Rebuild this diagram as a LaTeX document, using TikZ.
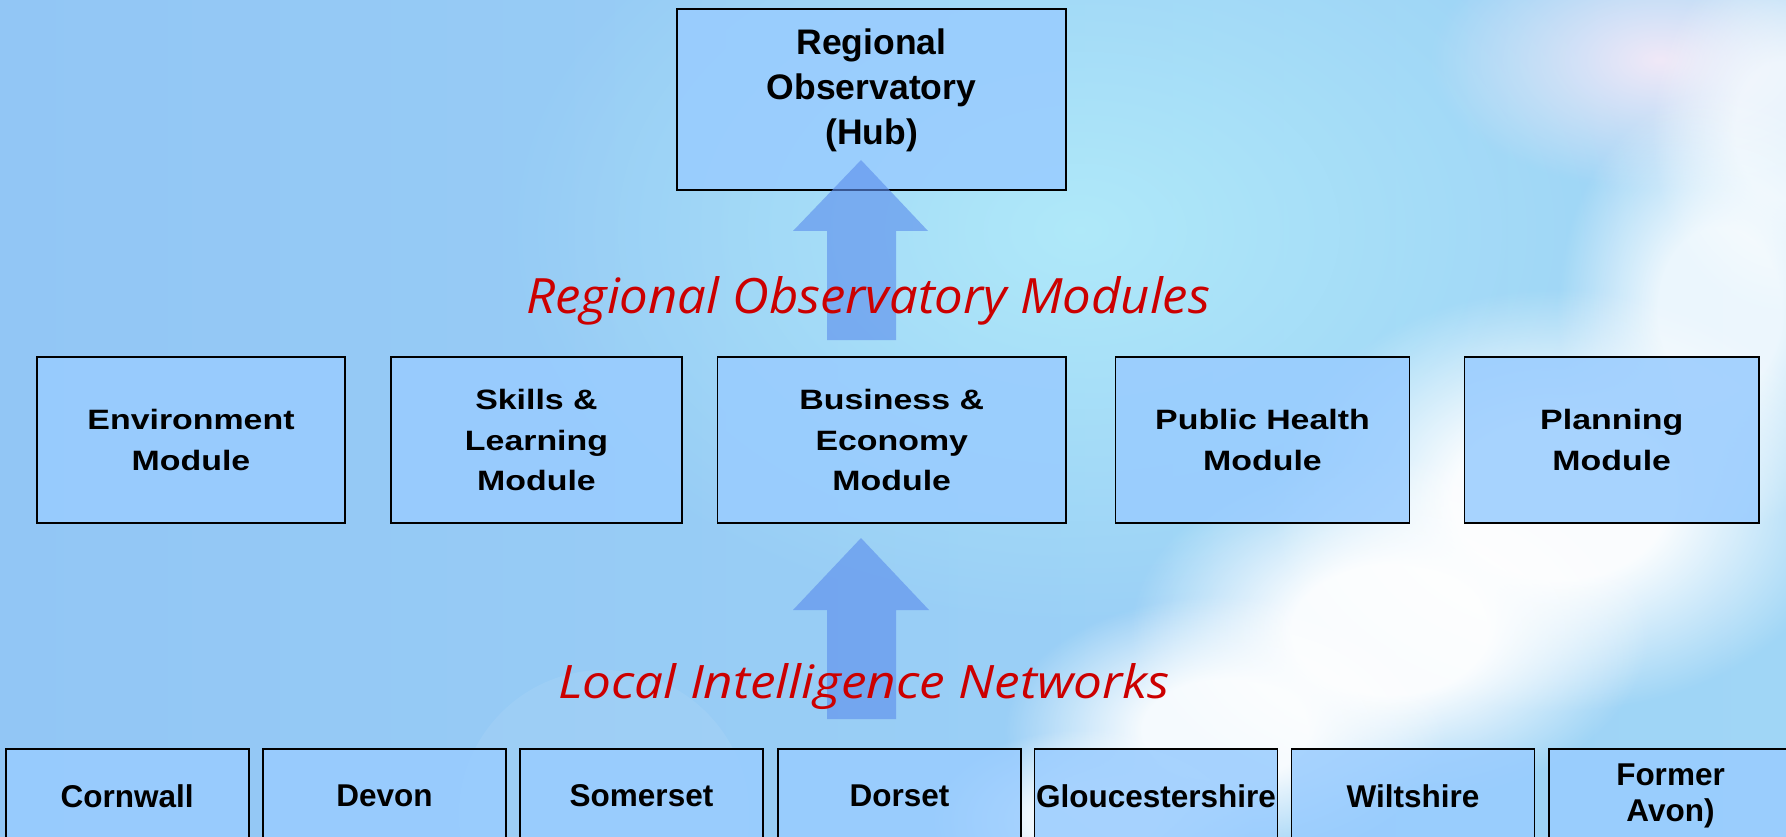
\documentclass[tikz,border=0pt]{standalone}
\usepackage{graphicx}
\usepackage{fontspec}
\setmainfont{Liberation Sans}
\newfontfamily\modfont[FakeStretch=1.21]{Liberation Sans}
\newfontfamily\handfont{Open Sans}
\usetikzlibrary{fadings}
\definecolor{boxblue}{RGB}{153,204,255}
\definecolor{bgleft}{RGB}{146,198,245}
\definecolor{bgright}{RGB}{160,214,246}
\definecolor{skyglow}{RGB}{178,236,250}
\definecolor{arrowblue}{RGB}{92,142,236}
\definecolor{handred}{RGB}{204,0,0}
\definecolor{pinkglow}{RGB}{255,236,248}
\tikzfading[name=softcirc, inner color=transparent!0, outer color=transparent!100]
\pgfdeclareradialshading{cloudshade}{\pgfpointorigin}{color(0bp)=(white); color(9bp)=(white); color(24bp)=(black); color(50bp)=(black)}
\pgfdeclarefading{cloudfade}{\pgfuseshading{cloudshade}}
\begin{document}
\begin{tikzpicture}[x=1pt,y=-1pt,
  box/.style={draw=black, line width=1.6pt, fill=boxblue, fill opacity=0.85, text opacity=1, align=center, inner sep=0pt},
  plainbox/.style={box},
  hubtext/.style={align=center, inner sep=0pt, font=\fontsize{35.5}{45}\selectfont\bfseries},
  modbox/.style={box, minimum height=166.5pt, font=\modfont\fontsize{28}{40.7}\selectfont\bfseries},
  locbox/.style={box, minimum width=243pt, minimum height=94pt, font=\fontsize{31.5}{36.5}\selectfont\bfseries},
  blockarrow/.style={fill=arrowblue, fill opacity=0.62},
  handtext/.style={text=handred, inner sep=0pt, anchor=base west, font=\handfont\itshape\fontsize{48}{52}\selectfont},
  cloud/.style={fill=white, path fading=cloudfade}
]
\useasboundingbox (0,0) rectangle (1786,837);
\clip (0,0) rectangle (1786,837);

% background sky
\fill[left color=bgleft, right color=bgright] (0,0) rectangle (1786,837);
\fill[skyglow, path fading=softcirc, fill opacity=0.9] (1080,230) ellipse (580pt and 400pt);
\fill[pinkglow, path fading=softcirc, fill opacity=0.85] (1660,60) ellipse (230pt and 130pt);
\fill[cloud, fill opacity=0.7] (1786,130) ellipse (140pt and 190pt);
\fill[cloud, fill opacity=0.8] (1720,310) ellipse (170pt and 230pt);
\fill[cloud, fill opacity=0.95] (1560,500) ellipse (300pt and 220pt);
\fill[cloud, fill opacity=0.95] (1390,630) ellipse (270pt and 180pt);
\fill[cloud, fill opacity=0.9] (1225,730) ellipse (230pt and 140pt);
\fill[cloud, fill opacity=0.85] (1090,820) ellipse (170pt and 95pt);
\fill[white, fill opacity=0.07] (604,815) circle (145pt);

% hub
\node[plainbox, minimum width=389pt, minimum height=181pt] (hub) at (871.5,99.5) {};
\node[hubtext] (hubT) at (871.5,90.3) {Regional\\Observatory\\(Hub)};

% modules
\node[modbox, minimum width=308pt] (env) at (191,440) {Environment\\Module};
\node[modbox, minimum width=291pt] (skills) at (536.5,440) {Skills \&\\Learning\\Module};
\node[modbox, minimum width=348.5pt] (bus) at (891.75,440) {Business \&\\Economy\\Module};
\node[modbox, minimum width=294pt] (ph) at (1262.5,440) {Public Health\\Module};
\node[modbox, minimum width=294.5pt] (plan) at (1611.75,440) {Planning\\Module};

% local intelligence networks
\node[locbox] (corn) at (127.2,796) {Cornwall};
\node[locbox] (devon) at (384.5,796) {Devon};
\node[locbox] (som) at (641.5,796) {Somerset};
\node[locbox] (dor) at (899.5,796) {Dorset};
\node[locbox] (glos) at (1156,796) {Gloucestershire};
\node[locbox] (wilts) at (1413,796) {Wiltshire};
\node[locbox] (avon) at (1670.5,796) {Former\\Avon)};

% block arrows
\fill[blockarrow] (861,160) -- (928,231) -- (896,231) -- (896,340) -- (827,340) -- (827,231) -- (793,231) -- cycle;
\fill[blockarrow] (861,538) -- (929,610) -- (896,610) -- (896,719) -- (827,719) -- (827,610) -- (793,610) -- cycle;

% handwritten labels
\node[handtext] (romod) at (526,313) {\resizebox{684pt}{37pt}{Regional Observatory Modules}};
\node[handtext] (lin) at (558,698) {\resizebox{612pt}{35pt}{Local Intelligence Networks}};
\end{tikzpicture}
\end{document}
